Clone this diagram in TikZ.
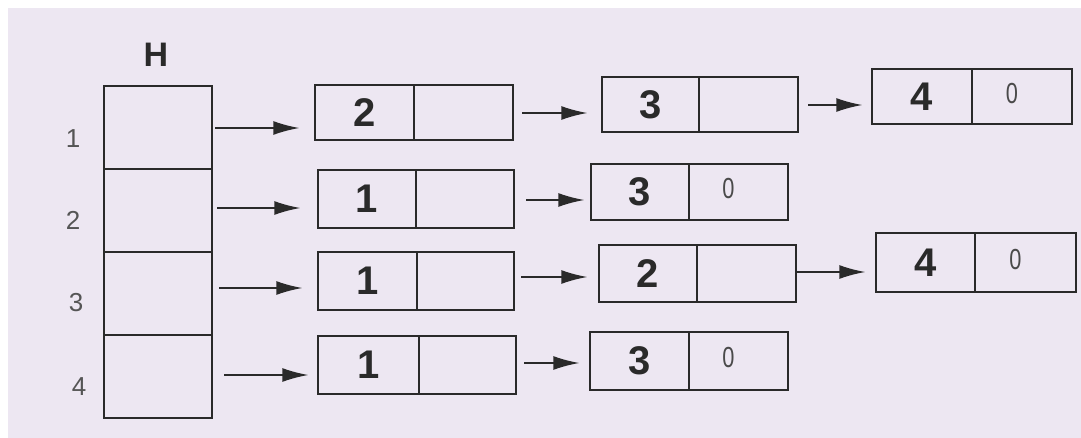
\documentclass[tikz,border=0pt]{standalone}
\usepackage{fontspec}
\setmainfont{Liberation Sans}
\usetikzlibrary{arrows.meta}
\definecolor{paper}{HTML}{EDE7F2}
\definecolor{ink}{HTML}{2A2A2A}
\definecolor{lab}{HTML}{555555}
\tikzset{
  cell/.style={draw=ink, line width=1.5pt, inner sep=0pt, minimum width=99pt, minimum height=57pt},
  hcell/.style={draw=ink, line width=1.5pt, inner sep=0pt, minimum width=108pt, minimum height=83pt},
  num/.style={font=\fontsize{40}{40}\selectfont\bfseries, text=ink},
  nil/.style={font=\fontsize{29}{29}\selectfont, text=ink!85, xshift=-10pt, yshift=3pt},
  idx/.style={font=\fontsize{26}{26}\selectfont, text=lab},
  arr/.style={draw=ink, line width=1.5pt, -{Latex[length=26pt,width=14pt]}},
}
\newcommand{\nilzero}{\scalebox{0.75}[1]{0}}
\begin{document}
\begin{tikzpicture}[x=1pt,y=-1pt]
\useasboundingbox (0,0) rectangle (1081,438);
\fill[white] (0,0) rectangle (1081,438);
\fill[paper] (8,8) rectangle (1081,438);

% array H
\node[font=\fontsize{34}{34}\selectfont\bfseries, text=ink] (Hlab) at (156,55) {H};
\node[hcell] (h1) at (158,127.5) {};
\node[hcell] (h2) at (158,210.5) {};
\node[hcell] (h3) at (158,293.5) {};
\node[hcell] (h4) at (158,376.5) {};
\node[idx] (i1) at (73,139) {1};
\node[idx] (i2) at (73,220) {2};
\node[idx] (i3) at (76,303) {3};
\node[idx] (i4) at (79,387) {4};

% row 1
\node[cell, minimum height=55pt] (a1) at (364.5,112.5) {};
\node[num] at (a1) {2};
\node[cell, minimum height=55pt] (a1r) at (463.5,112.5) {};
\node[cell, minimum width=97pt, minimum height=55pt] (a2) at (650.5,104.5) {};
\node[num] at (a2) {3};
\node[cell, minimum height=55pt] (a2r) at (748.5,104.5) {};
\node[cell, minimum width=100pt, minimum height=55pt] (a3) at (922,96.5) {};
\node[num] at (a3) {4};
\node[cell, minimum width=100pt, minimum height=55pt] (a3r) at (1022,96.5) {};
\node[nil] at (a3r) {\nilzero};

% row 2
\node[cell, minimum width=98pt, minimum height=58pt] (b1) at (367,199) {};
\node[num] at (b1) {1};
\node[cell, minimum width=98pt, minimum height=58pt] (b1r) at (465,199) {};
\node[cell, minimum width=98pt, minimum height=56pt] (b2) at (640,192) {};
\node[num] at (b2) {3};
\node[cell, minimum height=56pt] (b2r) at (738.5,192) {};
\node[nil] at (b2r) {\nilzero};

% row 3
\node[cell, minimum height=58pt] (c1) at (367.5,281) {};
\node[num] at (c1) {1};
\node[cell, minimum width=97pt, minimum height=58pt] (c1r) at (465.5,281) {};
\node[cell, minimum width=98pt] (c2) at (648,273.5) {};
\node[num] at (c2) {2};
\node[cell] (c2r) at (746.5,273.5) {};
\node[cell, minimum height=59pt] (c3) at (925.5,262.5) {};
\node[num] at (c3) {4};
\node[cell, minimum width=101pt, minimum height=59pt] (c3r) at (1025.5,262.5) {};
\node[nil] at (c3r) {\nilzero};

% row 4
\node[cell, minimum width=101pt, minimum height=58pt] (d1) at (368.5,365) {};
\node[num] at (d1) {1};
\node[cell, minimum width=97pt, minimum height=58pt] (d1r) at (467.5,365) {};
\node[cell, minimum height=58pt] (d2) at (639.5,361) {};
\node[num] at (d2) {3};
\node[cell, minimum height=58pt] (d2r) at (738.5,361) {};
\node[nil] at (d2r) {\nilzero};

% arrow start points
\coordinate (sa1) at (215,128);
\coordinate (sa2) at (522,113);
\coordinate (sa3) at (808,105);
\coordinate (sb1) at (217,208);
\coordinate (sb2) at (526,200);
\coordinate (sc1) at (219,288);
\coordinate (sc2) at (521,277);
\coordinate (sc3) at (797,272);
\coordinate (sd1) at (224,375);
\coordinate (sd2) at (524,363);

\draw[arr, shorten >=15pt] (sa1) -- (sa1 -| a1.west);
\draw[arr, shorten >=14pt] (sa2) -- (sa2 -| a2.west);
\draw[arr, shorten >=9pt]  (sa3) -- (sa3 -| a3.west);
\draw[arr, shorten >=17pt] (sb1) -- (sb1 -| b1.west);
\draw[arr, shorten >=6pt]  (sb2) -- (sb2 -| b2.west);
\draw[arr, shorten >=15pt] (sc1) -- (sc1 -| c1.west);
\draw[arr, shorten >=11pt] (sc2) -- (sc2 -| c2.west);
\draw[arr, shorten >=10pt] (sc3) -- (sc3 -| c3.west);
\draw[arr, shorten >=9pt]  (sd1) -- (sd1 -| d1.west);
\draw[arr, shorten >=10pt] (sd2) -- (sd2 -| d2.west);
\end{tikzpicture}
\end{document}
